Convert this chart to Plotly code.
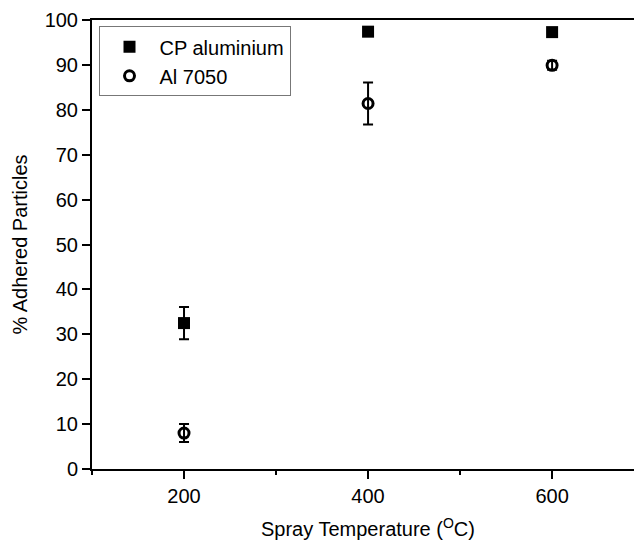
import plotly.graph_objects as go

# Spray temperature (deg C)
temperature = [200, 400, 600]

# Percentage of adhered particles and their error bars
cp_aluminium = [32.5, 97.4, 97.3]
cp_aluminium_err = [3.6, 0.6, 0.5]
al_7050 = [8.0, 81.4, 89.9]
al_7050_err = [2.0, 4.7, 1.0]

x_ticks = [200, 400, 600]
y_ticks = list(range(0, 101, 10))

font_family = "Liberation Sans, Arial, sans-serif"

fig = go.Figure()

fig.add_trace(go.Scatter(
    x=temperature, y=cp_aluminium, mode="markers", name="CP aluminium",
    marker=dict(symbol="square", size=12, color="black"),
    error_y=dict(type="data", array=cp_aluminium_err, visible=True,
                 color="black", thickness=2, width=5),
))
fig.add_trace(go.Scatter(
    x=temperature, y=al_7050, mode="markers", name="Al 7050",
    marker=dict(symbol="circle-open", size=10, color="black",
                line=dict(width=3, color="black")),
    error_y=dict(type="data", array=al_7050_err, visible=True,
                 color="black", thickness=2, width=5),
))

fig.update_layout(
    width=634, height=544,
    margin=dict(l=92, r=0, t=20, b=75),
    paper_bgcolor="white", plot_bgcolor="white",
    font=dict(family=font_family, size=20, color="black"),
    showlegend=True,
    legend=dict(
        x=0.012, y=0.986, xanchor="left", yanchor="top",
        bordercolor="#777777", borderwidth=1, bgcolor="white",
        font=dict(size=20, color="black"),
        itemwidth=50, tracegroupgap=0,
    ),
)

fig.update_xaxes(
    range=[100, 689], tickvals=x_ticks, ticktext=[str(v) for v in x_ticks],
    showgrid=False, zeroline=False,
    showline=True, linecolor="black", linewidth=2, mirror=True,
    ticks="outside", ticklen=8, tickwidth=2, tickcolor="black",
    minor=dict(tickvals=[100, 300, 500], ticks="outside", ticklen=4,
               tickwidth=2, tickcolor="black", showgrid=False),
    tickfont=dict(size=20),
)
fig.update_yaxes(
    range=[0, 100], tickvals=y_ticks, ticktext=[str(v) for v in y_ticks],
    showgrid=False, zeroline=False,
    showline=True, linecolor="black", linewidth=2, mirror=False,
    ticks="outside", ticklen=8, tickwidth=2, tickcolor="black",
    tickfont=dict(size=20),
    title=dict(text="% Adhered Particles", font=dict(size=20), standoff=12),
)

fig.add_annotation(
    x=400, xref="x", y=-0.1626, yref="paper", yanchor="bottom",
    text="Spray Temperature (<sup>O</sup>C)", showarrow=False,
    font=dict(size=20, color="black"),
)

fig.write_html("out.html")
